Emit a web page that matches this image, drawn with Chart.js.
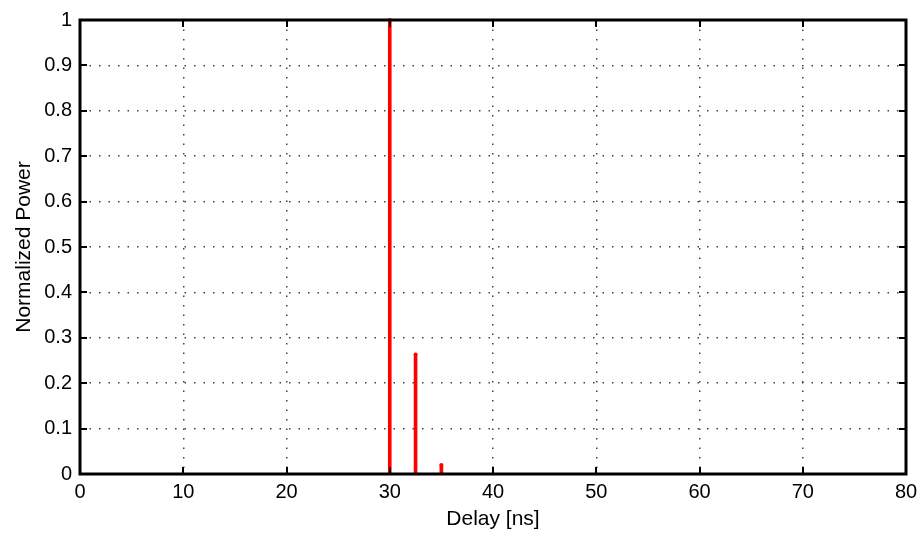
<!DOCTYPE html>
<html>
<head>
<meta charset="utf-8">
<script src="https://cdn.jsdelivr.net/npm/chart.js@4"></script>
<style>
  html, body { margin: 0; padding: 0; background: #fff; }
  #wrap { width: 924px; height: 536px; }
</style>
</head>
<body>
<div id="wrap"><canvas id="c" width="924" height="536"></canvas></div>
<script>
// stem positions (ns) and normalized power
const delays = [30, 32.5, 35];
const powers = [1.0, 0.263, 0.02];

const xTicks = [0, 10, 20, 30, 40, 50, 60, 70, 80];
const yTicks = [0, 0.1, 0.2, 0.3, 0.4, 0.5, 0.6, 0.7, 0.8, 0.9, 1];

const FONT = "'Liberation Sans', Arial, Helvetica, sans-serif";

// box around the axes and inward ticks, matlab style
const boxPlugin = {
  id: 'box',
  afterDatasetsDraw(chart) {
    const { ctx, chartArea: a, scales } = chart;
    ctx.save();
    ctx.strokeStyle = '#000';
    ctx.lineWidth = 2;
    ctx.beginPath();
    xTicks.forEach(v => {
      const x = Math.round(scales.x.getPixelForValue(v));
      ctx.moveTo(x, a.bottom); ctx.lineTo(x, a.bottom - 7);
      ctx.moveTo(x, a.top); ctx.lineTo(x, a.top + 7);
    });
    yTicks.forEach(v => {
      const y = Math.round(scales.y.getPixelForValue(v));
      ctx.moveTo(a.left, y); ctx.lineTo(a.left + 7, y);
      ctx.moveTo(a.right, y); ctx.lineTo(a.right - 7, y);
    });
    ctx.stroke();
    // small marker dots on stem tops
    ctx.fillStyle = '#ff0000';
    delays.forEach((d, i) => {
      ctx.beginPath();
      ctx.arc(scales.x.getPixelForValue(d), scales.y.getPixelForValue(powers[i]), 2, 0, Math.PI * 2);
      ctx.fill();
    });
    ctx.lineWidth = 3;
    ctx.strokeRect(a.left, a.top, a.right - a.left, a.bottom - a.top);
    ctx.restore();
  }
};

new Chart(document.getElementById('c'), {
  type: 'bar',
  data: {
    datasets: [{
      data: delays.map((d, i) => ({ x: d, y: powers[i] })),
      backgroundColor: '#ff0000',
      borderWidth: 0,
      barThickness: 3
    }]
  },
  plugins: [boxPlugin],
  options: {
    responsive: false,
    animation: false,
    layout: { padding: { top: 18, right: 18, left: 0, bottom: 0 } },
    plugins: { legend: { display: false }, tooltip: { enabled: false } },
    scales: {
      x: {
        type: 'linear',
        offset: false,
        min: 0, max: 80,
        afterFit: s => { s.height = 62; },
        afterBuildTicks: s => { s.ticks = xTicks.map(v => ({ value: v })); },
        grid: { offset: false, color: '#444', lineWidth: 1.5, drawTicks: false },
        border: { display: false, dash: [1.5, 8] },
        ticks: { color: '#000', font: { family: FONT, size: 20 }, padding: 6, maxRotation: 0 },
        title: { display: true, text: 'Delay [ns]', color: '#000', font: { family: FONT, size: 21 }, padding: { top: 0 } }
      },
      y: {
        type: 'linear',
        min: 0, max: 1,
        afterFit: s => { s.width = 80; },
        afterBuildTicks: s => { s.ticks = yTicks.map(v => ({ value: v })); },
        grid: { color: '#444', lineWidth: 1.5, drawTicks: false },
        border: { display: false, dash: [1.5, 8] },
        ticks: { color: '#000', font: { family: FONT, size: 20 }, padding: 8, callback: v => String(+v.toFixed(1)) },
        title: { display: true, text: 'Normalized Power', color: '#000', font: { family: FONT, size: 21 }, padding: { top: 12, bottom: 4 } }
      }
    }
  }
});
</script>
</body>
</html>
